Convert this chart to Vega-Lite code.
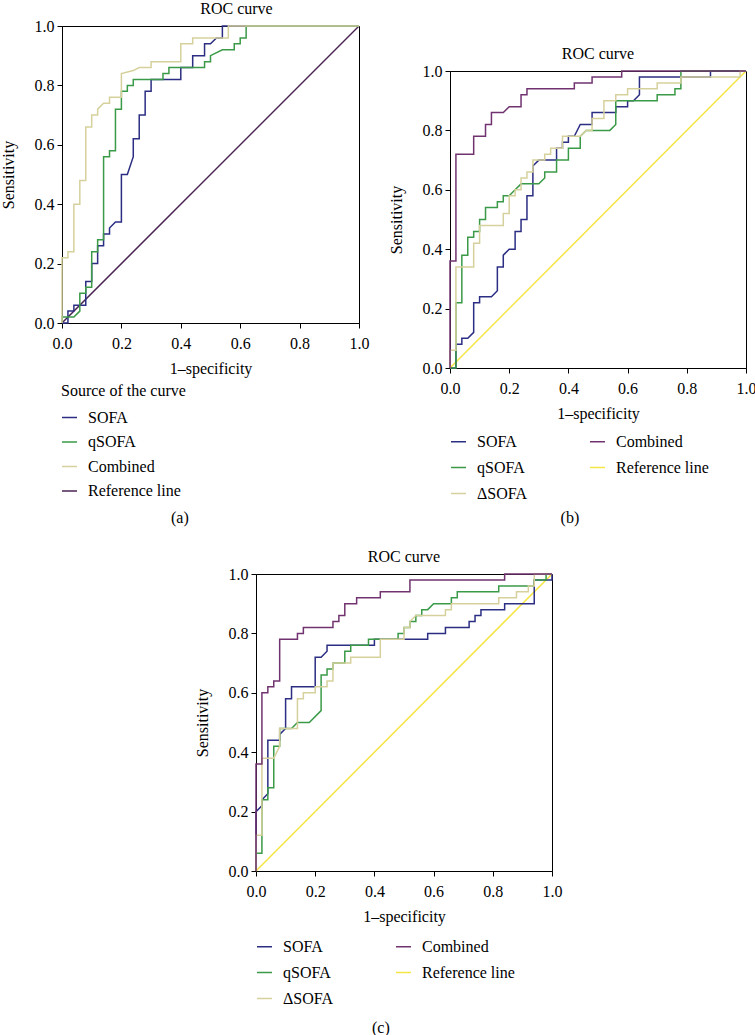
{
"$schema": "https://vega.github.io/schema/vega-lite/v6.json",
"background": "white",
"padding": {"left": 0, "top": 0, "right": 0, "bottom": 0},
"datasets": {"roc": [
{"p":"a","c":"Reference line","x":0,"y":0},{"p":"a","c":"Reference line","x":1,"y":1},
{"p":"a","c":"SOFA","x":0,"y":0},{"p":"a","c":"SOFA","x":0.02,"y":0},{"p":"a","c":"SOFA","x":0.02,"y":0.04},{"p":"a","c":"SOFA","x":0.04,"y":0.04},{"p":"a","c":"SOFA","x":0.04,"y":0.06},{"p":"a","c":"SOFA","x":0.08,"y":0.06},{"p":"a","c":"SOFA","x":0.08,"y":0.14},{"p":"a","c":"SOFA","x":0.10,"y":0.14},{"p":"a","c":"SOFA","x":0.10,"y":0.20},{"p":"a","c":"SOFA","x":0.12,"y":0.20},{"p":"a","c":"SOFA","x":0.12,"y":0.26},{"p":"a","c":"SOFA","x":0.14,"y":0.26},{"p":"a","c":"SOFA","x":0.14,"y":0.30},{"p":"a","c":"SOFA","x":0.16,"y":0.30},{"p":"a","c":"SOFA","x":0.16,"y":0.32},{"p":"a","c":"SOFA","x":0.18,"y":0.34},{"p":"a","c":"SOFA","x":0.20,"y":0.34},{"p":"a","c":"SOFA","x":0.20,"y":0.50},{"p":"a","c":"SOFA","x":0.22,"y":0.50},{"p":"a","c":"SOFA","x":0.24,"y":0.56},{"p":"a","c":"SOFA","x":0.24,"y":0.62},{"p":"a","c":"SOFA","x":0.26,"y":0.62},{"p":"a","c":"SOFA","x":0.26,"y":0.70},{"p":"a","c":"SOFA","x":0.28,"y":0.70},{"p":"a","c":"SOFA","x":0.28,"y":0.78},{"p":"a","c":"SOFA","x":0.30,"y":0.78},{"p":"a","c":"SOFA","x":0.30,"y":0.82},{"p":"a","c":"SOFA","x":0.40,"y":0.82},{"p":"a","c":"SOFA","x":0.40,"y":0.86},{"p":"a","c":"SOFA","x":0.44,"y":0.86},{"p":"a","c":"SOFA","x":0.44,"y":0.90},{"p":"a","c":"SOFA","x":0.48,"y":0.90},{"p":"a","c":"SOFA","x":0.48,"y":0.94},{"p":"a","c":"SOFA","x":0.50,"y":0.94},{"p":"a","c":"SOFA","x":0.52,"y":0.96},{"p":"a","c":"SOFA","x":0.54,"y":0.96},{"p":"a","c":"SOFA","x":0.54,"y":1},{"p":"a","c":"SOFA","x":1,"y":1},
{"p":"a","c":"qSOFA","x":0,"y":0},{"p":"a","c":"qSOFA","x":0,"y":0.02},{"p":"a","c":"qSOFA","x":0.04,"y":0.02},{"p":"a","c":"qSOFA","x":0.06,"y":0.04},{"p":"a","c":"qSOFA","x":0.06,"y":0.10},{"p":"a","c":"qSOFA","x":0.08,"y":0.10},{"p":"a","c":"qSOFA","x":0.08,"y":0.12},{"p":"a","c":"qSOFA","x":0.10,"y":0.12},{"p":"a","c":"qSOFA","x":0.10,"y":0.24},{"p":"a","c":"qSOFA","x":0.12,"y":0.24},{"p":"a","c":"qSOFA","x":0.12,"y":0.28},{"p":"a","c":"qSOFA","x":0.14,"y":0.28},{"p":"a","c":"qSOFA","x":0.14,"y":0.56},{"p":"a","c":"qSOFA","x":0.16,"y":0.56},{"p":"a","c":"qSOFA","x":0.16,"y":0.58},{"p":"a","c":"qSOFA","x":0.18,"y":0.58},{"p":"a","c":"qSOFA","x":0.18,"y":0.72},{"p":"a","c":"qSOFA","x":0.20,"y":0.72},{"p":"a","c":"qSOFA","x":0.20,"y":0.78},{"p":"a","c":"qSOFA","x":0.22,"y":0.78},{"p":"a","c":"qSOFA","x":0.22,"y":0.80},{"p":"a","c":"qSOFA","x":0.24,"y":0.80},{"p":"a","c":"qSOFA","x":0.24,"y":0.82},{"p":"a","c":"qSOFA","x":0.34,"y":0.82},{"p":"a","c":"qSOFA","x":0.34,"y":0.84},{"p":"a","c":"qSOFA","x":0.36,"y":0.84},{"p":"a","c":"qSOFA","x":0.36,"y":0.86},{"p":"a","c":"qSOFA","x":0.48,"y":0.86},{"p":"a","c":"qSOFA","x":0.48,"y":0.88},{"p":"a","c":"qSOFA","x":0.50,"y":0.88},{"p":"a","c":"qSOFA","x":0.50,"y":0.90},{"p":"a","c":"qSOFA","x":0.54,"y":0.92},{"p":"a","c":"qSOFA","x":0.58,"y":0.92},{"p":"a","c":"qSOFA","x":0.58,"y":0.94},{"p":"a","c":"qSOFA","x":0.60,"y":0.94},{"p":"a","c":"qSOFA","x":0.60,"y":0.96},{"p":"a","c":"qSOFA","x":0.62,"y":0.96},{"p":"a","c":"qSOFA","x":0.62,"y":1},{"p":"a","c":"qSOFA","x":1,"y":1},
{"p":"a","c":"Combined","x":0,"y":0},{"p":"a","c":"Combined","x":0,"y":0.22},{"p":"a","c":"Combined","x":0.02,"y":0.22},{"p":"a","c":"Combined","x":0.02,"y":0.24},{"p":"a","c":"Combined","x":0.04,"y":0.24},{"p":"a","c":"Combined","x":0.04,"y":0.40},{"p":"a","c":"Combined","x":0.06,"y":0.40},{"p":"a","c":"Combined","x":0.06,"y":0.48},{"p":"a","c":"Combined","x":0.08,"y":0.48},{"p":"a","c":"Combined","x":0.08,"y":0.66},{"p":"a","c":"Combined","x":0.10,"y":0.66},{"p":"a","c":"Combined","x":0.10,"y":0.70},{"p":"a","c":"Combined","x":0.12,"y":0.70},{"p":"a","c":"Combined","x":0.12,"y":0.72},{"p":"a","c":"Combined","x":0.14,"y":0.74},{"p":"a","c":"Combined","x":0.16,"y":0.74},{"p":"a","c":"Combined","x":0.16,"y":0.76},{"p":"a","c":"Combined","x":0.20,"y":0.76},{"p":"a","c":"Combined","x":0.20,"y":0.84},{"p":"a","c":"Combined","x":0.24,"y":0.85},{"p":"a","c":"Combined","x":0.26,"y":0.86},{"p":"a","c":"Combined","x":0.30,"y":0.86},{"p":"a","c":"Combined","x":0.30,"y":0.88},{"p":"a","c":"Combined","x":0.40,"y":0.88},{"p":"a","c":"Combined","x":0.40,"y":0.94},{"p":"a","c":"Combined","x":0.44,"y":0.94},{"p":"a","c":"Combined","x":0.44,"y":0.96},{"p":"a","c":"Combined","x":0.56,"y":0.96},{"p":"a","c":"Combined","x":0.56,"y":1},{"p":"a","c":"Combined","x":1,"y":1},
{"p":"b","c":"Reference line","x":0,"y":0},{"p":"b","c":"Reference line","x":1,"y":1},
{"p":"b","c":"SOFA","x":0,"y":0},{"p":"b","c":"SOFA","x":0.02,"y":0},{"p":"b","c":"SOFA","x":0.02,"y":0.08},{"p":"b","c":"SOFA","x":0.04,"y":0.08},{"p":"b","c":"SOFA","x":0.04,"y":0.10},{"p":"b","c":"SOFA","x":0.06,"y":0.10},{"p":"b","c":"SOFA","x":0.08,"y":0.12},{"p":"b","c":"SOFA","x":0.08,"y":0.22},{"p":"b","c":"SOFA","x":0.10,"y":0.22},{"p":"b","c":"SOFA","x":0.10,"y":0.24},{"p":"b","c":"SOFA","x":0.14,"y":0.24},{"p":"b","c":"SOFA","x":0.16,"y":0.26},{"p":"b","c":"SOFA","x":0.16,"y":0.34},{"p":"b","c":"SOFA","x":0.18,"y":0.34},{"p":"b","c":"SOFA","x":0.18,"y":0.38},{"p":"b","c":"SOFA","x":0.20,"y":0.40},{"p":"b","c":"SOFA","x":0.22,"y":0.40},{"p":"b","c":"SOFA","x":0.22,"y":0.46},{"p":"b","c":"SOFA","x":0.24,"y":0.46},{"p":"b","c":"SOFA","x":0.24,"y":0.50},{"p":"b","c":"SOFA","x":0.26,"y":0.50},{"p":"b","c":"SOFA","x":0.26,"y":0.58},{"p":"b","c":"SOFA","x":0.28,"y":0.58},{"p":"b","c":"SOFA","x":0.28,"y":0.68},{"p":"b","c":"SOFA","x":0.30,"y":0.70},{"p":"b","c":"SOFA","x":0.36,"y":0.70},{"p":"b","c":"SOFA","x":0.36,"y":0.74},{"p":"b","c":"SOFA","x":0.38,"y":0.74},{"p":"b","c":"SOFA","x":0.38,"y":0.76},{"p":"b","c":"SOFA","x":0.40,"y":0.76},{"p":"b","c":"SOFA","x":0.40,"y":0.78},{"p":"b","c":"SOFA","x":0.42,"y":0.78},{"p":"b","c":"SOFA","x":0.44,"y":0.82},{"p":"b","c":"SOFA","x":0.48,"y":0.82},{"p":"b","c":"SOFA","x":0.48,"y":0.86},{"p":"b","c":"SOFA","x":0.56,"y":0.86},{"p":"b","c":"SOFA","x":0.56,"y":0.88},{"p":"b","c":"SOFA","x":0.60,"y":0.88},{"p":"b","c":"SOFA","x":0.60,"y":0.90},{"p":"b","c":"SOFA","x":0.62,"y":0.90},{"p":"b","c":"SOFA","x":0.64,"y":0.92},{"p":"b","c":"SOFA","x":0.64,"y":0.98},{"p":"b","c":"SOFA","x":0.88,"y":0.98},{"p":"b","c":"SOFA","x":0.88,"y":1},{"p":"b","c":"SOFA","x":1,"y":1},
{"p":"b","c":"qSOFA","x":0,"y":0},{"p":"b","c":"qSOFA","x":0.02,"y":0},{"p":"b","c":"qSOFA","x":0.02,"y":0.22},{"p":"b","c":"qSOFA","x":0.04,"y":0.22},{"p":"b","c":"qSOFA","x":0.04,"y":0.38},{"p":"b","c":"qSOFA","x":0.06,"y":0.38},{"p":"b","c":"qSOFA","x":0.06,"y":0.44},{"p":"b","c":"qSOFA","x":0.08,"y":0.44},{"p":"b","c":"qSOFA","x":0.08,"y":0.46},{"p":"b","c":"qSOFA","x":0.10,"y":0.46},{"p":"b","c":"qSOFA","x":0.10,"y":0.50},{"p":"b","c":"qSOFA","x":0.12,"y":0.50},{"p":"b","c":"qSOFA","x":0.12,"y":0.54},{"p":"b","c":"qSOFA","x":0.16,"y":0.54},{"p":"b","c":"qSOFA","x":0.16,"y":0.56},{"p":"b","c":"qSOFA","x":0.18,"y":0.56},{"p":"b","c":"qSOFA","x":0.18,"y":0.58},{"p":"b","c":"qSOFA","x":0.20,"y":0.58},{"p":"b","c":"qSOFA","x":0.22,"y":0.60},{"p":"b","c":"qSOFA","x":0.24,"y":0.62},{"p":"b","c":"qSOFA","x":0.30,"y":0.62},{"p":"b","c":"qSOFA","x":0.32,"y":0.64},{"p":"b","c":"qSOFA","x":0.32,"y":0.66},{"p":"b","c":"qSOFA","x":0.36,"y":0.66},{"p":"b","c":"qSOFA","x":0.36,"y":0.70},{"p":"b","c":"qSOFA","x":0.40,"y":0.70},{"p":"b","c":"qSOFA","x":0.40,"y":0.74},{"p":"b","c":"qSOFA","x":0.44,"y":0.74},{"p":"b","c":"qSOFA","x":0.44,"y":0.78},{"p":"b","c":"qSOFA","x":0.46,"y":0.80},{"p":"b","c":"qSOFA","x":0.54,"y":0.80},{"p":"b","c":"qSOFA","x":0.56,"y":0.82},{"p":"b","c":"qSOFA","x":0.56,"y":0.90},{"p":"b","c":"qSOFA","x":0.70,"y":0.90},{"p":"b","c":"qSOFA","x":0.70,"y":0.92},{"p":"b","c":"qSOFA","x":0.76,"y":0.92},{"p":"b","c":"qSOFA","x":0.76,"y":0.94},{"p":"b","c":"qSOFA","x":0.78,"y":0.94},{"p":"b","c":"qSOFA","x":0.78,"y":1},{"p":"b","c":"qSOFA","x":1,"y":1},
{"p":"b","c":"ΔSOFA","x":0,"y":0},{"p":"b","c":"ΔSOFA","x":0,"y":0.06},{"p":"b","c":"ΔSOFA","x":0.02,"y":0.06},{"p":"b","c":"ΔSOFA","x":0.02,"y":0.34},{"p":"b","c":"ΔSOFA","x":0.08,"y":0.34},{"p":"b","c":"ΔSOFA","x":0.08,"y":0.42},{"p":"b","c":"ΔSOFA","x":0.10,"y":0.42},{"p":"b","c":"ΔSOFA","x":0.10,"y":0.48},{"p":"b","c":"ΔSOFA","x":0.18,"y":0.48},{"p":"b","c":"ΔSOFA","x":0.18,"y":0.52},{"p":"b","c":"ΔSOFA","x":0.20,"y":0.52},{"p":"b","c":"ΔSOFA","x":0.20,"y":0.58},{"p":"b","c":"ΔSOFA","x":0.22,"y":0.58},{"p":"b","c":"ΔSOFA","x":0.22,"y":0.60},{"p":"b","c":"ΔSOFA","x":0.24,"y":0.60},{"p":"b","c":"ΔSOFA","x":0.24,"y":0.64},{"p":"b","c":"ΔSOFA","x":0.26,"y":0.64},{"p":"b","c":"ΔSOFA","x":0.26,"y":0.66},{"p":"b","c":"ΔSOFA","x":0.28,"y":0.66},{"p":"b","c":"ΔSOFA","x":0.28,"y":0.70},{"p":"b","c":"ΔSOFA","x":0.32,"y":0.70},{"p":"b","c":"ΔSOFA","x":0.32,"y":0.72},{"p":"b","c":"ΔSOFA","x":0.34,"y":0.72},{"p":"b","c":"ΔSOFA","x":0.34,"y":0.74},{"p":"b","c":"ΔSOFA","x":0.38,"y":0.74},{"p":"b","c":"ΔSOFA","x":0.38,"y":0.78},{"p":"b","c":"ΔSOFA","x":0.44,"y":0.78},{"p":"b","c":"ΔSOFA","x":0.46,"y":0.80},{"p":"b","c":"ΔSOFA","x":0.48,"y":0.80},{"p":"b","c":"ΔSOFA","x":0.48,"y":0.84},{"p":"b","c":"ΔSOFA","x":0.52,"y":0.84},{"p":"b","c":"ΔSOFA","x":0.52,"y":0.90},{"p":"b","c":"ΔSOFA","x":0.56,"y":0.90},{"p":"b","c":"ΔSOFA","x":0.56,"y":0.92},{"p":"b","c":"ΔSOFA","x":0.60,"y":0.92},{"p":"b","c":"ΔSOFA","x":0.60,"y":0.94},{"p":"b","c":"ΔSOFA","x":0.70,"y":0.94},{"p":"b","c":"ΔSOFA","x":0.70,"y":0.96},{"p":"b","c":"ΔSOFA","x":0.78,"y":0.96},{"p":"b","c":"ΔSOFA","x":0.78,"y":0.98},{"p":"b","c":"ΔSOFA","x":0.98,"y":0.98},{"p":"b","c":"ΔSOFA","x":0.98,"y":1},{"p":"b","c":"ΔSOFA","x":1,"y":1},
{"p":"b","c":"Combined","x":0,"y":0},{"p":"b","c":"Combined","x":0,"y":0.36},{"p":"b","c":"Combined","x":0.02,"y":0.36},{"p":"b","c":"Combined","x":0.02,"y":0.72},{"p":"b","c":"Combined","x":0.08,"y":0.72},{"p":"b","c":"Combined","x":0.08,"y":0.78},{"p":"b","c":"Combined","x":0.12,"y":0.78},{"p":"b","c":"Combined","x":0.12,"y":0.82},{"p":"b","c":"Combined","x":0.14,"y":0.82},{"p":"b","c":"Combined","x":0.14,"y":0.86},{"p":"b","c":"Combined","x":0.18,"y":0.86},{"p":"b","c":"Combined","x":0.20,"y":0.88},{"p":"b","c":"Combined","x":0.24,"y":0.88},{"p":"b","c":"Combined","x":0.24,"y":0.92},{"p":"b","c":"Combined","x":0.26,"y":0.92},{"p":"b","c":"Combined","x":0.26,"y":0.94},{"p":"b","c":"Combined","x":0.42,"y":0.94},{"p":"b","c":"Combined","x":0.42,"y":0.96},{"p":"b","c":"Combined","x":0.48,"y":0.96},{"p":"b","c":"Combined","x":0.48,"y":0.98},{"p":"b","c":"Combined","x":0.58,"y":0.98},{"p":"b","c":"Combined","x":0.58,"y":1},{"p":"b","c":"Combined","x":1,"y":1},
{"p":"c","c":"Reference line","x":0,"y":0},{"p":"c","c":"Reference line","x":1,"y":1},
{"p":"c","c":"SOFA","x":0,"y":0},{"p":"c","c":"SOFA","x":0,"y":0.20},{"p":"c","c":"SOFA","x":0.02,"y":0.22},{"p":"c","c":"SOFA","x":0.02,"y":0.24},{"p":"c","c":"SOFA","x":0.04,"y":0.26},{"p":"c","c":"SOFA","x":0.04,"y":0.44},{"p":"c","c":"SOFA","x":0.08,"y":0.44},{"p":"c","c":"SOFA","x":0.08,"y":0.46},{"p":"c","c":"SOFA","x":0.10,"y":0.48},{"p":"c","c":"SOFA","x":0.10,"y":0.58},{"p":"c","c":"SOFA","x":0.12,"y":0.58},{"p":"c","c":"SOFA","x":0.12,"y":0.62},{"p":"c","c":"SOFA","x":0.20,"y":0.62},{"p":"c","c":"SOFA","x":0.20,"y":0.72},{"p":"c","c":"SOFA","x":0.22,"y":0.72},{"p":"c","c":"SOFA","x":0.24,"y":0.74},{"p":"c","c":"SOFA","x":0.24,"y":0.76},{"p":"c","c":"SOFA","x":0.40,"y":0.76},{"p":"c","c":"SOFA","x":0.40,"y":0.78},{"p":"c","c":"SOFA","x":0.58,"y":0.78},{"p":"c","c":"SOFA","x":0.58,"y":0.80},{"p":"c","c":"SOFA","x":0.64,"y":0.80},{"p":"c","c":"SOFA","x":0.64,"y":0.82},{"p":"c","c":"SOFA","x":0.72,"y":0.82},{"p":"c","c":"SOFA","x":0.72,"y":0.84},{"p":"c","c":"SOFA","x":0.74,"y":0.84},{"p":"c","c":"SOFA","x":0.74,"y":0.86},{"p":"c","c":"SOFA","x":0.76,"y":0.86},{"p":"c","c":"SOFA","x":0.76,"y":0.88},{"p":"c","c":"SOFA","x":0.84,"y":0.88},{"p":"c","c":"SOFA","x":0.84,"y":0.90},{"p":"c","c":"SOFA","x":0.94,"y":0.90},{"p":"c","c":"SOFA","x":0.94,"y":0.98},{"p":"c","c":"SOFA","x":1,"y":0.98},{"p":"c","c":"SOFA","x":1,"y":1},
{"p":"c","c":"qSOFA","x":0,"y":0},{"p":"c","c":"qSOFA","x":0,"y":0.06},{"p":"c","c":"qSOFA","x":0.02,"y":0.06},{"p":"c","c":"qSOFA","x":0.02,"y":0.24},{"p":"c","c":"qSOFA","x":0.04,"y":0.24},{"p":"c","c":"qSOFA","x":0.04,"y":0.28},{"p":"c","c":"qSOFA","x":0.06,"y":0.28},{"p":"c","c":"qSOFA","x":0.06,"y":0.42},{"p":"c","c":"qSOFA","x":0.08,"y":0.42},{"p":"c","c":"qSOFA","x":0.08,"y":0.48},{"p":"c","c":"qSOFA","x":0.12,"y":0.48},{"p":"c","c":"qSOFA","x":0.14,"y":0.50},{"p":"c","c":"qSOFA","x":0.18,"y":0.50},{"p":"c","c":"qSOFA","x":0.22,"y":0.54},{"p":"c","c":"qSOFA","x":0.22,"y":0.66},{"p":"c","c":"qSOFA","x":0.24,"y":0.66},{"p":"c","c":"qSOFA","x":0.24,"y":0.68},{"p":"c","c":"qSOFA","x":0.26,"y":0.68},{"p":"c","c":"qSOFA","x":0.26,"y":0.70},{"p":"c","c":"qSOFA","x":0.30,"y":0.70},{"p":"c","c":"qSOFA","x":0.30,"y":0.74},{"p":"c","c":"qSOFA","x":0.32,"y":0.74},{"p":"c","c":"qSOFA","x":0.32,"y":0.76},{"p":"c","c":"qSOFA","x":0.38,"y":0.76},{"p":"c","c":"qSOFA","x":0.38,"y":0.78},{"p":"c","c":"qSOFA","x":0.48,"y":0.78},{"p":"c","c":"qSOFA","x":0.48,"y":0.80},{"p":"c","c":"qSOFA","x":0.50,"y":0.80},{"p":"c","c":"qSOFA","x":0.50,"y":0.82},{"p":"c","c":"qSOFA","x":0.52,"y":0.82},{"p":"c","c":"qSOFA","x":0.52,"y":0.84},{"p":"c","c":"qSOFA","x":0.54,"y":0.84},{"p":"c","c":"qSOFA","x":0.54,"y":0.86},{"p":"c","c":"qSOFA","x":0.56,"y":0.86},{"p":"c","c":"qSOFA","x":0.56,"y":0.88},{"p":"c","c":"qSOFA","x":0.58,"y":0.88},{"p":"c","c":"qSOFA","x":0.60,"y":0.90},{"p":"c","c":"qSOFA","x":0.66,"y":0.90},{"p":"c","c":"qSOFA","x":0.66,"y":0.92},{"p":"c","c":"qSOFA","x":0.68,"y":0.92},{"p":"c","c":"qSOFA","x":0.68,"y":0.94},{"p":"c","c":"qSOFA","x":0.82,"y":0.94},{"p":"c","c":"qSOFA","x":0.82,"y":0.96},{"p":"c","c":"qSOFA","x":0.94,"y":0.96},{"p":"c","c":"qSOFA","x":0.94,"y":0.98},{"p":"c","c":"qSOFA","x":0.98,"y":0.98},{"p":"c","c":"qSOFA","x":0.98,"y":1},{"p":"c","c":"qSOFA","x":1,"y":1},
{"p":"c","c":"ΔSOFA","x":0,"y":0},{"p":"c","c":"ΔSOFA","x":0,"y":0.12},{"p":"c","c":"ΔSOFA","x":0.02,"y":0.12},{"p":"c","c":"ΔSOFA","x":0.02,"y":0.38},{"p":"c","c":"ΔSOFA","x":0.06,"y":0.38},{"p":"c","c":"ΔSOFA","x":0.08,"y":0.42},{"p":"c","c":"ΔSOFA","x":0.08,"y":0.48},{"p":"c","c":"ΔSOFA","x":0.14,"y":0.48},{"p":"c","c":"ΔSOFA","x":0.14,"y":0.58},{"p":"c","c":"ΔSOFA","x":0.16,"y":0.58},{"p":"c","c":"ΔSOFA","x":0.16,"y":0.60},{"p":"c","c":"ΔSOFA","x":0.20,"y":0.60},{"p":"c","c":"ΔSOFA","x":0.20,"y":0.62},{"p":"c","c":"ΔSOFA","x":0.24,"y":0.62},{"p":"c","c":"ΔSOFA","x":0.24,"y":0.64},{"p":"c","c":"ΔSOFA","x":0.26,"y":0.64},{"p":"c","c":"ΔSOFA","x":0.26,"y":0.70},{"p":"c","c":"ΔSOFA","x":0.32,"y":0.70},{"p":"c","c":"ΔSOFA","x":0.32,"y":0.72},{"p":"c","c":"ΔSOFA","x":0.42,"y":0.72},{"p":"c","c":"ΔSOFA","x":0.42,"y":0.78},{"p":"c","c":"ΔSOFA","x":0.50,"y":0.78},{"p":"c","c":"ΔSOFA","x":0.50,"y":0.82},{"p":"c","c":"ΔSOFA","x":0.52,"y":0.82},{"p":"c","c":"ΔSOFA","x":0.52,"y":0.84},{"p":"c","c":"ΔSOFA","x":0.54,"y":0.86},{"p":"c","c":"ΔSOFA","x":0.64,"y":0.86},{"p":"c","c":"ΔSOFA","x":0.64,"y":0.88},{"p":"c","c":"ΔSOFA","x":0.66,"y":0.88},{"p":"c","c":"ΔSOFA","x":0.66,"y":0.90},{"p":"c","c":"ΔSOFA","x":0.82,"y":0.90},{"p":"c","c":"ΔSOFA","x":0.82,"y":0.92},{"p":"c","c":"ΔSOFA","x":0.88,"y":0.92},{"p":"c","c":"ΔSOFA","x":0.88,"y":0.94},{"p":"c","c":"ΔSOFA","x":0.92,"y":0.94},{"p":"c","c":"ΔSOFA","x":0.92,"y":0.96},{"p":"c","c":"ΔSOFA","x":0.94,"y":0.96},{"p":"c","c":"ΔSOFA","x":0.94,"y":1},{"p":"c","c":"ΔSOFA","x":1,"y":1},
{"p":"c","c":"Combined","x":0,"y":0},{"p":"c","c":"Combined","x":0,"y":0.36},{"p":"c","c":"Combined","x":0.02,"y":0.36},{"p":"c","c":"Combined","x":0.02,"y":0.60},{"p":"c","c":"Combined","x":0.04,"y":0.60},{"p":"c","c":"Combined","x":0.04,"y":0.62},{"p":"c","c":"Combined","x":0.06,"y":0.62},{"p":"c","c":"Combined","x":0.06,"y":0.64},{"p":"c","c":"Combined","x":0.08,"y":0.64},{"p":"c","c":"Combined","x":0.08,"y":0.78},{"p":"c","c":"Combined","x":0.14,"y":0.78},{"p":"c","c":"Combined","x":0.14,"y":0.80},{"p":"c","c":"Combined","x":0.16,"y":0.80},{"p":"c","c":"Combined","x":0.16,"y":0.82},{"p":"c","c":"Combined","x":0.26,"y":0.82},{"p":"c","c":"Combined","x":0.26,"y":0.84},{"p":"c","c":"Combined","x":0.28,"y":0.84},{"p":"c","c":"Combined","x":0.28,"y":0.86},{"p":"c","c":"Combined","x":0.30,"y":0.86},{"p":"c","c":"Combined","x":0.30,"y":0.90},{"p":"c","c":"Combined","x":0.34,"y":0.90},{"p":"c","c":"Combined","x":0.34,"y":0.92},{"p":"c","c":"Combined","x":0.42,"y":0.92},{"p":"c","c":"Combined","x":0.42,"y":0.94},{"p":"c","c":"Combined","x":0.52,"y":0.94},{"p":"c","c":"Combined","x":0.52,"y":0.98},{"p":"c","c":"Combined","x":0.84,"y":0.98},{"p":"c","c":"Combined","x":0.84,"y":1},{"p":"c","c":"Combined","x":1,"y":1}
]},
"config": {
  "view": {"stroke": "black", "strokeWidth": 1},
  "font": "Liberation Serif",
  "axis": {"grid": false, "domainColor": "black", "tickColor": "black", "tickSize": 5, "labelFont": "Liberation Serif", "labelFontSize": 16, "labelColor": "black", "titleFont": "Liberation Serif", "titleFontSize": 16, "titleFontWeight": "normal", "titleColor": "black", "labelFlush": false, "labelOverlap": false},
  "axisX": {"labelPadding": 7.5, "titlePadding": 8.5},
  "axisY": {"labelPadding": 3, "titlePadding": 17.5},
  "legend": {"symbolType": "stroke", "symbolSize": 225, "symbolStrokeWidth": 1.5, "labelFont": "Liberation Serif", "labelFontSize": 16, "labelColor": "black", "titleFont": "Liberation Serif", "titleFontSize": 16, "titleFontWeight": "normal", "titleColor": "black", "labelOffset": 10, "rowPadding": 9, "padding": 0, "titlePadding": 10},
  "title": {"font": "Liberation Serif", "fontSize": 16, "fontWeight": "normal", "color": "black", "offset": 1.5}
},
"vconcat": [
 {"hconcat": [
   {"width": 297, "height": 297,
    "title": {"text": "ROC curve", "dx": 26},
    "layer": [
     {"data": {"name": "roc"}, "transform": [{"filter": "datum.p === 'a'"}],
      "mark": {"type": "line", "strokeWidth": 1.5},
      "encoding": {
        "x": {"field": "x", "type": "quantitative", "scale": {"domain": [0, 1], "nice": false}, "axis": {"title": "1–specificity", "values": [0, 0.2, 0.4, 0.6, 0.8, 1], "format": ".1f"}},
        "y": {"field": "y", "type": "quantitative", "scale": {"domain": [0, 1], "nice": false}, "axis": {"title": "Sensitivity", "values": [0, 0.2, 0.4, 0.6, 0.8, 1], "format": ".1f"}},
        "color": {"field": "c", "type": "nominal", "scale": {"domain": ["SOFA", "qSOFA", "Combined", "Reference line"], "range": ["#2b2e83", "#3a9a47", "#d6d19c", "#4a2352"]}, "legend": {"orient": "none", "legendX": -1, "legendY": 357, "direction": "vertical", "title": "Source of the curve", "rowPadding": 7.5}},
        "order": {"value": null}
      }},
     {"data": {"values": [{"t": "(a)"}]},
      "mark": {"type": "text", "fontSize": 16, "font": "Liberation Serif", "align": "center", "baseline": "middle", "color": "black"},
      "encoding": {"x": {"datum": 0.397}, "y": {"datum": -0.657}, "text": {"field": "t"}}}
    ]},
   {"vconcat": [
     {"width": 296, "height": 45, "data": {"values": []}, "mark": "point", "encoding": {}, "view": {"stroke": null}},
     {"width": 296, "height": 297,
      "title": {"text": "ROC curve"},
      "layer": [
       {"data": {"name": "roc"}, "transform": [{"filter": "datum.p === 'b'"}],
        "mark": {"type": "line", "strokeWidth": 1.5},
        "encoding": {
          "x": {"field": "x", "type": "quantitative", "scale": {"domain": [0, 1], "nice": false}, "axis": {"title": "1–specificity", "values": [0, 0.2, 0.4, 0.6, 0.8, 1], "format": ".1f"}},
          "y": {"field": "y", "type": "quantitative", "scale": {"domain": [0, 1], "nice": false}, "axis": {"title": "Sensitivity", "values": [0, 0.2, 0.4, 0.6, 0.8, 1], "format": ".1f"}},
          "color": {"field": "c", "type": "nominal", "scale": {"domain": ["SOFA", "qSOFA", "ΔSOFA", "Combined", "Reference line"], "range": ["#2b2e83", "#3a9a47", "#d6d19c", "#70336f", "#f4e544"]}, "legend": {"orient": "none", "legendX": 0, "legendY": 407, "direction": "vertical", "columns": 2, "columnPadding": 59, "rowPadding": 9, "title": null}},
          "order": {"value": null}
        }},
       {"data": {"values": [{"t": "(b)"}]},
        "mark": {"type": "text", "fontSize": 16, "font": "Liberation Serif", "align": "center", "baseline": "middle", "color": "black"},
        "encoding": {"x": {"datum": 0.405}, "y": {"datum": -0.505}, "text": {"field": "t"}}}
      ]}
   ], "spacing": 0, "bounds": "flush", "align": "each"}
 ], "spacing": 91, "bounds": "flush", "resolve": {"scale": {"color": "independent"}, "legend": {"color": "independent"}}},
 {"hconcat": [
   {"width": 194, "height": 1, "data": {"values": []}, "mark": "point", "encoding": {}, "view": {"stroke": null}},
   {"width": 296, "height": 297,
    "title": {"text": "ROC curve"},
    "layer": [
     {"data": {"name": "roc"}, "transform": [{"filter": "datum.p === 'c'"}],
      "mark": {"type": "line", "strokeWidth": 1.5},
      "encoding": {
        "x": {"field": "x", "type": "quantitative", "scale": {"domain": [0, 1], "nice": false}, "axis": {"title": "1–specificity", "values": [0, 0.2, 0.4, 0.6, 0.8, 1], "format": ".1f"}},
        "y": {"field": "y", "type": "quantitative", "scale": {"domain": [0, 1], "nice": false}, "axis": {"title": "Sensitivity", "values": [0, 0.2, 0.4, 0.6, 0.8, 1], "format": ".1f"}},
        "color": {"field": "c", "type": "nominal", "scale": {"domain": ["SOFA", "qSOFA", "ΔSOFA", "Combined", "Reference line"], "range": ["#2b2e83", "#3a9a47", "#d6d19c", "#70336f", "#f4e544"]}, "legend": {"orient": "none", "legendX": 194, "legendY": 364, "direction": "vertical", "columns": 2, "columnPadding": 59, "rowPadding": 9, "title": null}},
        "order": {"value": null}
      }},
     {"data": {"values": [{"t": "(c)"}]},
      "mark": {"type": "text", "fontSize": 16, "font": "Liberation Serif", "align": "center", "baseline": "middle", "color": "black"},
      "encoding": {"x": {"datum": 0.422}, "y": {"datum": -0.529}, "text": {"field": "t"}}}
    ]}
 ], "spacing": 0, "bounds": "flush"}
],
"spacing": 548, "bounds": "flush", "align": "each",
"resolve": {"scale": {"color": "independent"}, "legend": {"color": "independent"}}
}
